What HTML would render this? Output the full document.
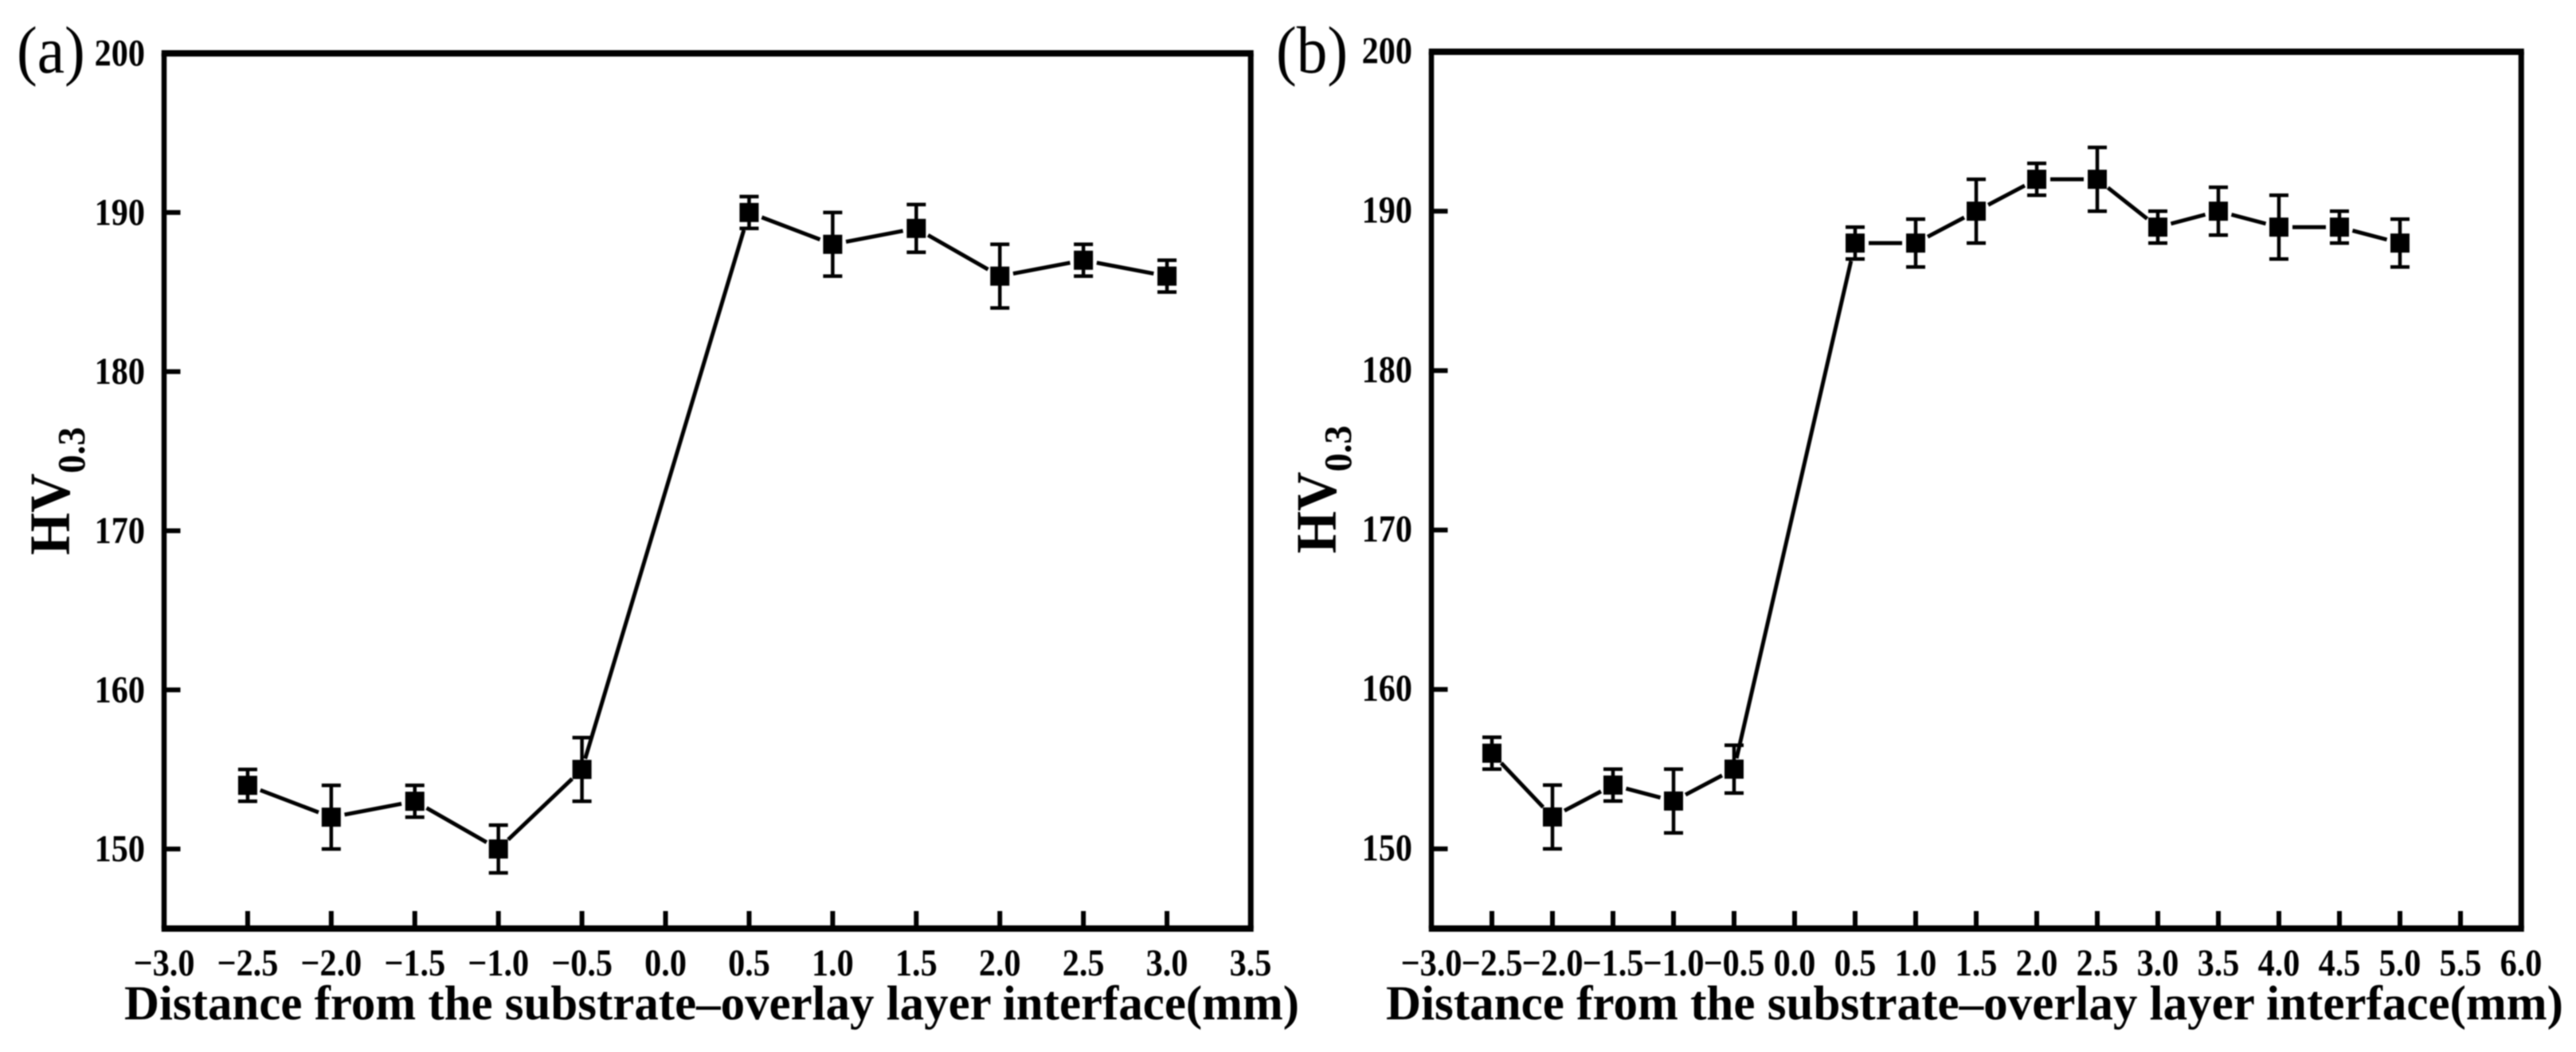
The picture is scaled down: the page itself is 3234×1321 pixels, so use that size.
<!DOCTYPE html>
<html lang="en">
<head>
<meta charset="utf-8">
<title>Hardness profiles across the substrate–overlay layer interface</title>
<style>
html,body{margin:0;padding:0;background:#fff;}
body{width:3234px;height:1321px;overflow:hidden;}
svg{display:block;filter:blur(0.9px);}
text{font-family:"Liberation Serif",serif;fill:#000;}
.tick{font-weight:bold;font-size:48px;}
.title{font-weight:bold;font-size:61px;}
.hv{font-weight:bold;font-size:72px;}
.sub{font-weight:bold;font-size:49px;}
.tag{font-size:84px;}
</style>
</head>
<body>
<svg id="fig" xmlns="http://www.w3.org/2000/svg" width="3234" height="1321" viewBox="0 0 3234 1321"></svg>
<script>
// Panel (a) data
const aDistance = [-2.5, -2.0, -1.5, -1.0, -0.5, 0.5, 1.0, 1.5, 2.0, 2.5, 3.0];
const aHardness = [154, 152, 153, 150, 155, 190, 188, 189, 186, 187, 186];
const aError = [1, 2, 1, 1.5, 2, 1, 2, 1.5, 2, 1, 1];
const aXTicks = [-3.0, -2.5, -2.0, -1.5, -1.0, -0.5, 0.0, 0.5, 1.0, 1.5, 2.0, 2.5, 3.0, 3.5];
const aXLabels = ["−3.0", "−2.5", "−2.0", "−1.5", "−1.0", "−0.5", "0.0", "0.5", "1.0", "1.5", "2.0", "2.5", "3.0", "3.5"];

// Panel (b) data
const bDistance = [-2.5, -2.0, -1.5, -1.0, -0.5, 0.5, 1.0, 1.5, 2.0, 2.5, 3.0, 3.5, 4.0, 4.5, 5.0];
const bHardness = [156, 152, 154, 153, 155, 188, 188, 190, 192, 192, 189, 190, 189, 189, 188];
const bError = [1, 2, 1, 2, 1.5, 1, 1.5, 2, 1, 2, 1, 1.5, 2, 1, 1.5];
const bXTicks = [-3.0, -2.5, -2.0, -1.5, -1.0, -0.5, 0.0, 0.5, 1.0, 1.5, 2.0, 2.5, 3.0, 3.5, 4.0, 4.5, 5.0, 5.5, 6.0];
const bXLabels = ["−3.0", "−2.5", "−2.0", "−1.5", "−1.0", "−0.5", "0.0", "0.5", "1.0", "1.5", "2.0", "2.5", "3.0", "3.5", "4.0", "4.5", "5.0", "5.5", "6.0"];

// Shared y axis
const yTicks = [150, 160, 170, 180, 190, 200];
const yLabels = ["150", "160", "170", "180", "190", "200"];
const yMin = 145;
const yMax = 200;

const xTitleText = "Distance from the substrate–overlay layer interface(mm)";
const NS = "http://www.w3.org/2000/svg";
const svg = document.getElementById("fig");

function make(tag, attrs, parent) {
  const el = document.createElementNS(NS, tag);
  for (const k in attrs) el.setAttribute(k, attrs[k]);
  parent.appendChild(el);
  return el;
}

function drawPanel(p) {
  const g = make("g", {}, svg);
  
  

  const xs = v => p.left + (v - p.xMin) / (p.xMax - p.xMin) * (p.right - p.left);
  const ys = v => p.bottom - (v - yMin) / (yMax - yMin) * (p.bottom - p.top);

  // frame
  const frame = make("g", {fill: "#000"}, g);
  
  
  make("rect", {x: p.left - 3.25, y: p.top - 4, width: p.right - p.left + 7, height: 8}, frame);
  make("rect", {x: p.left - 3.25, y: p.bottom - 4, width: p.right - p.left + 7, height: 8}, frame);
  make("rect", {x: p.left - 3.25, y: p.top, width: 6.5, height: p.bottom - p.top}, frame);
  make("rect", {x: p.right - 3.25, y: p.top, width: 7, height: p.bottom - p.top}, frame);

  // x ticks and labels
  p.xTicks.forEach((v, i) => {
    const x = xs(v);
    if (i > 0 && i < p.xTicks.length - 1) {
      const t = make("rect", {x: x - 3, y: p.bottom - 22, width: 6, height: 20, fill: "#000"}, g);
      
      
    }
    const lb = make("text", {transform: "translate(" + x + " 1225) scale(0.88 1)", "text-anchor": "middle", class: "tick"}, g);
    lb.textContent = p.xLabels[i];
    
    
  });

  // y ticks and labels
  yTicks.forEach((v, i) => {
    const y = ys(v);
    if (v !== yMax) {
      const t = make("rect", {x: p.left + 2, y: y - 3, width: 18.5, height: 6, fill: "#000"}, g);
      
      
    }
    const lb = make("text", {transform: "translate(" + (p.left - 24) + " " + (y + p.yLabelDy) + ") scale(0.88 1)", "text-anchor": "end", class: "tick"}, g);
    lb.textContent = yLabels[i];
    
    
  });

  // connecting line with gaps around markers
  const lineG = make("g", {stroke: "#000", "stroke-width": 5, fill: "none"}, g);
  
  
  for (let i = 0; i < p.dist.length - 1; i++) {
    const x1 = xs(p.dist[i]), y1 = ys(p.hard[i]);
    const x2 = xs(p.dist[i + 1]), y2 = ys(p.hard[i + 1]);
    const len = Math.hypot(x2 - x1, y2 - y1);
    const ux = (x2 - x1) / len, uy = (y2 - y1) / len;
    const steep = Math.abs(uy) > 0.9;
    const gapStart = steep ? 14 : 17;
    const gapEnd = steep ? 23 : 17;
    make("line", {x1: x1 + ux * gapStart, y1: y1 + uy * gapStart, x2: x2 - ux * gapEnd, y2: y2 - uy * gapEnd}, lineG);
  }

  // error bars and markers
  p.dist.forEach((d, i) => {
    const x = xs(d), y = ys(p.hard[i]);
    const yHi = ys(p.hard[i] + p.err[i]), yLo = ys(p.hard[i] - p.err[i]);
    const eb = make("g", {fill: "#000"}, g);
    
    
    make("rect", {x: x - 2.25, y: yHi, width: 4.5, height: yLo - yHi}, eb);
    make("rect", {x: x - 12, y: yHi - 2.25, width: 24, height: 4.5}, eb);
    make("rect", {x: x - 12, y: yLo - 2.25, width: 24, height: 4.5}, eb);
    const m = make("rect", {x: x - 12, y: y - 12, width: 24, height: 24, fill: "#000"}, g);
    
    
  });

  // axis titles
  const xt = make("text", {x: p.titleX, y: 1280, class: "title", textLength: p.titleW, lengthAdjust: "spacingAndGlyphs"}, g);
  xt.textContent = xTitleText;
  
  

  const yt = make("text", {transform: "translate(" + p.hvX + " " + p.hvY + ") rotate(-90) scale(0.95 1)", class: "hv"}, g);
  
  
  const hv = make("tspan", {}, yt);
  hv.textContent = "HV";
  const sub = make("tspan", {class: "sub", dy: 19}, yt);
  sub.textContent = "0.3";

  const tag = make("text", {transform: "translate(" + p.tagX + " 91) scale(0.92 1)", class: "tag"}, g);
  tag.textContent = "(" + p.id + ")";
  
  
}

drawPanel({
  id: "a", dist: aDistance, hard: aHardness, err: aError, xTicks: aXTicks, xLabels: aXLabels,
  xMin: -3.0, xMax: 3.5, left: 206, right: 1570, top: 67, bottom: 1166,
  yLabelDy: 15.5, titleX: 156, titleW: 1475, hvX: 87, hvY: 697, tagX: 21
});
drawPanel({
  id: "b", dist: bDistance, hard: bHardness, err: bError, xTicks: bXTicks, xLabels: bXLabels,
  xMin: -3.0, xMax: 6.0, left: 1797, right: 3165, top: 65, bottom: 1166,
  yLabelDy: 14.5, titleX: 1740, titleW: 1478, hvX: 1677, hvY: 695, tagX: 1602
});
</script>
</body>
</html>
